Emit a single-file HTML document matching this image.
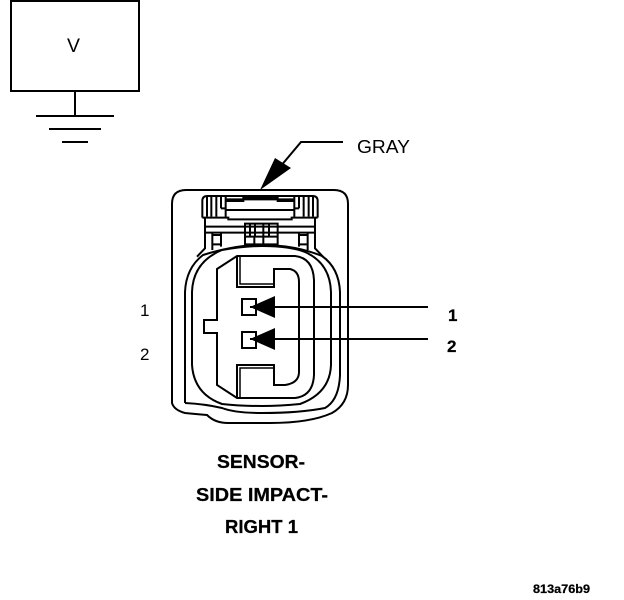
<!DOCTYPE html>
<html><head><meta charset="utf-8"><style>
html,body{margin:0;padding:0;background:#fff}
svg{display:block}
text{font-family:"Liberation Sans",sans-serif;fill:#000}
.b{font-weight:bold;stroke:#000;stroke-width:.25}
</style></head><body>
<svg width="624" height="600" viewBox="0 0 624 600" xmlns="http://www.w3.org/2000/svg">
<g fill="none" stroke="#000" stroke-width="2">
<rect x="11" y="1" width="128" height="90"/>
<path d="M75 91V116M36 116H114M49 129H101M62 142H88"/>
<path d="M343 142H301L280 167"/>
<path d="M172 204Q172 190 186 190H334Q348 190 348 204V385Q348 404 332 413Q310 423 270 423H228Q215 423 207 415Q195 414 185 413Q174 410 172 403Z"/>
<path d="M185 403V292Q186 268 203 255Q235 245 262 245Q295 245 322 256Q339 268 340 292V375Q339 400 325 408Q300 413 262 413Q235 413 222 408Q205 404 185 403"/>
<path d="M192 292Q193 262 222 250Q245 246 262 246Q290 246 305 252Q330 263 331 292V365Q330 393 300 404Q280 406 262 406Q240 406 222 404Q194 394 192 365Z"/>
<path d="M217 269L237 256H295Q313 258 314 280V375Q313 396 295 398H237L217 385V333H204V320H217Z"/>
<path d="M237 256V287H274V269H290Q299 271 299 282V372Q299 383 285 385H274V365H237V398"/>
<path d="M240 257V284H274M240 397V368H274" stroke-width="1.5"/>
<rect x="242" y="299" width="14" height="16"/>
<rect x="242" y="332" width="14" height="16"/>
<path d="M250 307H428M250 339H428"/>
<g transform="translate(195 185) scale(.3333)" stroke-width="6">
<path d="M22 98V48Q22 33 37 33H353Q368 33 368 48V98"/>
<path d="M36 33V95M49 33V95M64 33V95M78 33V70M92 33V98M354 33V95M341 33V95M326 33V95M312 33V70M298 33V98"/>
<path d="M78 70H92M298 70H312"/>
<path d="M92 43H298M92 48H145V38H248V48H298M92 75H298"/>
<path d="M22 98H100V103H290V98H368"/>
<path d="M30 125H360M30 143H360"/>
<path d="M150 116H248V178H150ZM165 116V155M180 116V155M205 116V155M222 116V155M150 155H248M178 155V178M205 155V178"/>
<path d="M30 98V190L6 215M360 98V190L384 215"/>
<path d="M52 145V195M78 145V185M52 150H78M52 178H78M312 145V185M338 145V195M312 150H338M312 178H338"/>
</g>
</g>
<polygon points="260,190 275,158 291,168"/>
<polygon points="250,307 275,296 275,318"/>
<polygon points="250,339 275,328 275,350"/>
<text x="67" y="52" font-size="19" textLength="13" lengthAdjust="spacingAndGlyphs">V</text>
<text x="357" y="153" font-size="18" textLength="53" lengthAdjust="spacingAndGlyphs">GRAY</text>
<text x="140" y="316" font-size="17">1</text>
<text x="140" y="360" font-size="17">2</text>
<text x="448" y="321" font-size="17" class="b">1</text>
<text x="447" y="352" font-size="17" class="b">2</text>
<text x="217" y="468" font-size="18" class="b" textLength="88" lengthAdjust="spacingAndGlyphs">SENSOR-</text>
<text x="196" y="501" font-size="18" class="b" textLength="132" lengthAdjust="spacingAndGlyphs">SIDE IMPACT-</text>
<text x="225" y="533" font-size="18" class="b" textLength="73" lengthAdjust="spacingAndGlyphs">RIGHT 1</text>
<text x="533" y="593" font-size="12" class="b" textLength="57" lengthAdjust="spacingAndGlyphs">813a76b9</text>
</svg>
</body></html>
